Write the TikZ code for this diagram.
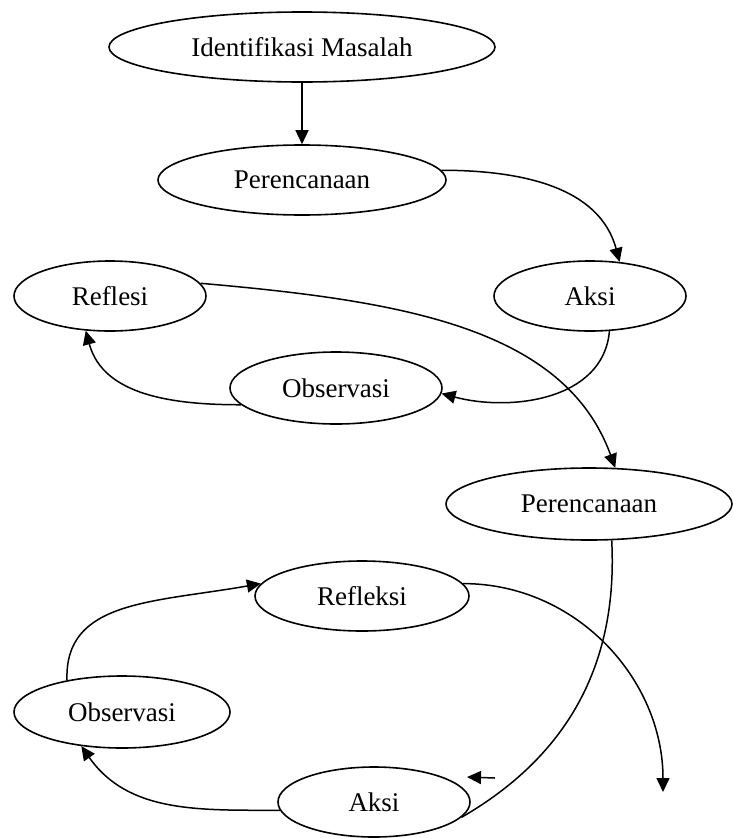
\documentclass[tikz,border=0pt]{standalone}
\usepackage{fontspec}
\setmainfont{Liberation Serif}
\usetikzlibrary{shapes.geometric,arrows.meta}
\begin{document}
\begin{tikzpicture}[x=1pt,y=-1pt,
  oval/.style={ellipse,draw,line width=1.6pt,inner sep=0pt,font=\fontsize{27}{32}\selectfont},
  flow/.style={line width=1.5pt,-{Triangle[length=14pt,width=13pt]}},
  link/.style={line width=1.5pt}]
\path[use as bounding box] (0,0) rectangle (733,838);
% cycle 1
\node[oval,minimum width=386pt,minimum height=70pt] (idm) at (302,47) {Identifikasi Masalah};
\node[oval,minimum width=288pt,minimum height=70pt] (per1) at (302,180) {Perencanaan};
\node[oval,minimum width=192pt,minimum height=70pt] (ref1) at (110,296) {Reflesi};
\node[oval,minimum width=192pt,minimum height=70pt] (aks1) at (590,296) {Aksi};
\node[oval,minimum width=212pt,minimum height=72pt] (obs1) at (336,388) {Observasi};
% cycle 2
\node[oval,minimum width=286pt,minimum height=72pt] (per2) at (589,504) {Perencanaan};
\node[oval,minimum width=214pt,minimum height=70pt] (ref2) at (362,596) {Refleksi};
\node[oval,minimum width=216pt,minimum height=72pt] (obs2) at (122,712) {Observasi};
\node[oval,minimum width=192pt,minimum height=70pt] (aks2) at (374,802) {Aksi};
\coordinate (tipA) at (495,778);
\coordinate (tipB) at (467,777);
\coordinate (endR) at (663,792);
% connectors
\draw[flow] (idm.south) -- (per1.north);
\draw[flow] (per1.4) to[out=0,in=105] (aks1.49);
\draw[flow] (aks1.-61) to[out=-95,in=-15] (obs1.-3);
\draw[flow] (obs1.190) to[out=180,in=-75] (ref1.235);
\draw[flow] (ref1.8) to[out=-5,in=110,out distance=200pt,in distance=150pt] (per2.54);
\draw[link] (per2.-58) to[out=-87,in=30] (aks2.-10);
\draw[flow] (tipA) -- (tipB);
\draw[flow] (aks2.185) to[out=180,in=-55] (obs2.220);
\draw[flow] (obs2.150) to[out=92,in=190,out distance=80pt,in distance=110pt] (ref2.173);
\draw[flow] (ref2.7) to[out=0,in=90] (endR);
\end{tikzpicture}
\end{document}
